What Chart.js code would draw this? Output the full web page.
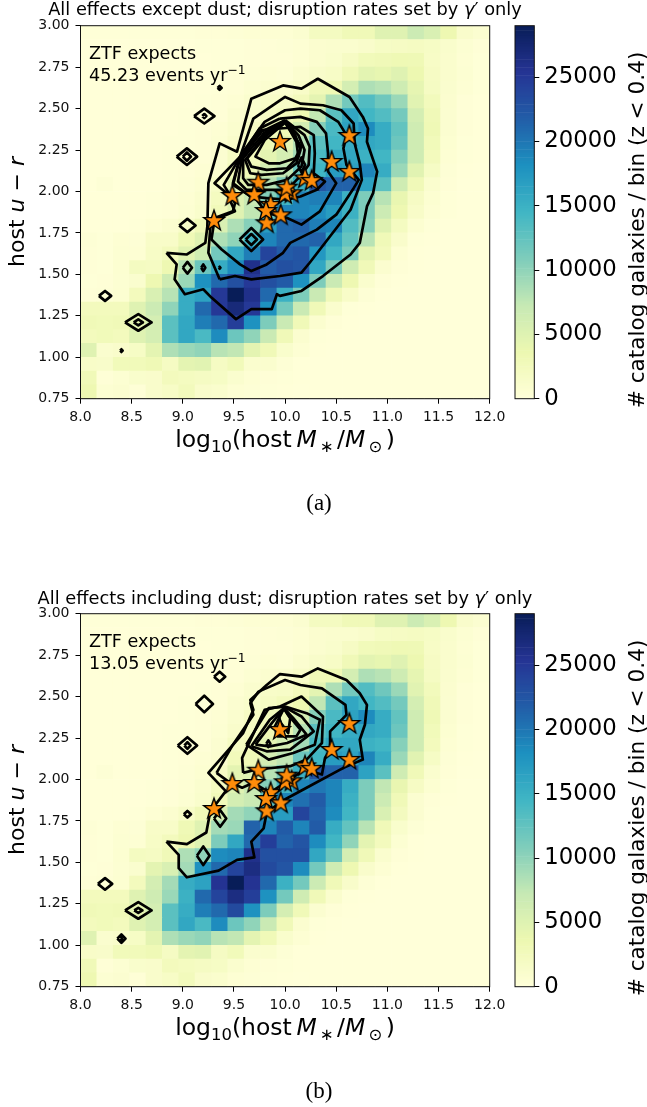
<!DOCTYPE html>
<html>
<head>
<meta charset="utf-8">
<title>Host galaxy demographics</title>
<script src="https://cdn.jsdelivr.net/npm/chart.js@4"></script>
<style>
  html, body { margin: 0; padding: 0; background: #fff; }
  #page { position: relative; width: 647px; height: 1107px; overflow: hidden; }
  canvas { position: absolute; display: block; }
</style>
</head>
<body>
<div id="page">
  <canvas id="painel_a" width="647" height="519" style="left:0;top:0"></canvas>
  <canvas id="barra_a" width="142" height="519" style="left:505px;top:0"></canvas>
  <canvas id="painel_b" width="647" height="519" style="left:0;top:588px"></canvas>
  <canvas id="barra_b" width="142" height="519" style="left:505px;top:588px"></canvas>
</div>
<script>
const xTicks = [8, 8.5, 9, 9.5, 10, 10.5, 11, 11.5, 12];
const yTicks = [0.75, 1, 1.25, 1.5, 1.75, 2, 2.25, 2.5, 2.75, 3];
const cbarTicks = [0, 5000, 10000, 15000, 20000, 25000];
const cbarMax = 29000;

// galaxies per bin, top row (u-r 3.00) first, 25 mass bins left to right
const countsA = [
[150,150,150,150,150,150,200,300,300,400,500,500,500,800,2200,2200,3000,3000,5000,5000,6800,5500,3500,1300,800],
[100,100,100,100,100,100,100,150,200,200,300,300,400,500,900,1000,1000,1300,1800,1900,2100,1800,1200,600,300],
[50,50,50,50,50,100,100,100,150,200,300,300,300,500,900,1200,1900,2800,3000,3300,3200,1700,1100,500,200],
[50,50,50,50,50,100,100,100,200,300,400,500,400,900,1400,1700,3000,4600,4200,5000,3600,1900,1100,600,200],
[50,50,50,50,100,100,100,100,200,300,600,900,1000,1500,3000,3300,6000,8500,8000,6600,4300,2000,1000,500,200],
[50,50,50,100,100,100,100,200,300,500,1000,1500,1600,2500,4500,8500,11500,13500,11800,9500,4800,2600,900,300,100],
[50,50,100,100,100,100,150,200,300,800,1200,1900,2500,3500,7500,13000,16000,14500,13500,11500,6000,3000,800,300,100],
[50,50,100,100,100,100,150,300,500,1000,1900,2600,3200,6000,10500,14000,16500,18500,15500,12500,6500,3200,800,300,100],
[50,100,100,100,100,150,200,300,600,1300,2000,3200,4500,8000,13000,14500,15500,16000,15500,12000,6500,2800,700,200,50],
[50,100,100,100,100,150,200,300,800,2000,2500,4500,6000,9000,14000,16000,16000,15000,14500,10500,6500,2500,500,200,50],
[100,100,100,100,100,200,300,500,900,2700,3000,6000,7500,12000,14500,17000,16500,19000,15500,9500,4800,1800,400,100,0],
[100,400,100,100,100,200,400,700,1700,4500,5000,8000,11000,15000,22500,21500,21500,16500,13000,6500,3000,1000,300,0,0],
[100,100,100,100,150,300,500,1000,2300,5000,7000,10500,14500,19000,19500,19000,15000,11000,8000,4000,1900,700,200,0,0],
[100,100,100,100,200,300,600,1200,2800,5000,7500,12000,19000,19000,18500,17000,15000,11000,6800,3500,1500,500,200,0,0],
[100,100,100,200,500,900,1600,3000,5500,8500,10500,17000,21000,21500,19500,19000,13500,10500,5000,2200,700,200,0,0,0],
[400,200,500,400,1500,1500,3200,5000,8500,10000,15000,19000,21000,21000,21500,16000,12500,8000,3000,1300,200,100,0,0,0],
[300,200,600,500,1700,2500,4800,6500,11500,16000,19500,24000,22000,22500,17500,14500,11000,4500,2500,500,100,0,0,0,0],
[300,200,700,2200,2000,3500,8000,12000,15500,18500,26000,22000,23000,22500,16000,11000,6500,3000,900,300,50,0,0,0,0],
[200,300,600,1000,3500,6500,9500,18000,21000,23000,25000,23000,22000,18000,11000,7000,3500,1100,300,50,0,0,0,0,0],
[300,400,700,2500,5500,8000,15500,16500,25000,29000,26000,21000,15000,11000,7000,3000,1500,400,50,0,0,0,0,0,0],
[2500,2500,2500,5000,6800,10000,15500,21000,25000,27000,25000,18000,11500,7000,3000,1100,200,50,0,0,0,0,0,0,0],
[3000,2800,3000,4500,6000,13000,16000,19500,21000,24500,18000,11000,7000,3000,900,300,100,0,0,0,0,0,0,0,0],
[2500,2800,2500,5000,6000,13000,16000,14000,18500,12000,10000,7000,3000,900,200,50,0,0,0,0,0,0,0,0,0],
[5000,1000,1300,1800,4500,8500,9500,10000,8000,7500,4500,3000,1200,500,50,0,0,0,0,0,0,0,0,0,0],
[1500,1400,2800,2800,3200,2000,4500,4800,2000,2800,1000,1000,400,100,0,0,0,0,0,0,0,0,0,0,0],
[3000,300,600,1200,1300,2500,2300,2000,1800,1000,500,300,200,50,0,0,0,0,0,0,0,0,0,0,0],
[3500,600,800,300,1300,1700,2600,1300,1100,500,400,200,100,0,0,0,0,0,0,0,0,0,0,0,0]
];

const countsB = [
[150,150,150,150,150,150,200,300,300,400,500,500,500,800,2200,2200,3000,3000,5000,5000,6800,5500,3500,1300,800],
[100,100,100,100,100,100,100,150,200,200,300,300,400,500,900,1000,1000,1300,1800,1900,2100,1800,1200,600,300],
[50,50,50,50,50,100,100,100,150,200,300,300,300,500,900,1200,1900,2800,3000,3300,3200,1700,1100,500,200],
[50,50,50,50,50,100,100,100,200,300,400,500,400,900,1400,1700,3000,4600,4200,5000,3600,1900,1100,600,200],
[50,50,50,50,100,100,100,100,200,300,600,900,1000,1500,3000,3300,6000,8500,8000,6600,4300,2000,1000,500,200],
[50,50,50,100,100,100,100,200,300,500,1000,1500,1600,2500,4500,8500,11500,13500,11800,9500,4800,2600,900,300,100],
[50,50,100,100,100,100,150,200,300,800,1200,1900,2500,3500,7500,13000,16000,14500,13500,11500,6000,3000,800,300,100],
[50,50,100,100,100,100,150,300,500,1000,1900,2600,3200,6000,10500,14000,16500,18500,15500,12500,6500,3200,800,300,100],
[50,100,100,100,100,150,200,300,600,1300,2000,3200,4500,8000,13000,14500,15500,16000,15500,12000,6500,2800,700,200,50],
[50,100,100,100,100,150,200,300,800,2000,2500,4500,6000,9000,14000,16000,16000,15000,14500,10500,6500,2500,500,200,50],
[100,100,100,100,100,200,300,500,900,2700,3000,6000,7500,12000,14500,17000,16500,19000,15500,9500,4800,1800,400,100,0],
[100,400,100,100,100,200,400,700,1700,4500,5000,8000,11000,15000,22500,21500,21500,16500,13000,6500,3000,1000,300,0,0],
[100,100,100,100,150,300,500,1000,2300,5000,7000,10500,14500,19000,20000,19000,15500,11000,7500,4000,1900,700,200,0,0],
[100,100,100,100,200,300,600,1200,2800,6000,7000,13000,19000,20500,22000,19000,15000,11000,6800,3000,800,300,100,0,0],
[100,100,100,200,500,900,1600,3000,5500,9000,10000,17000,17000,24000,21500,18500,14500,11000,5500,2400,800,200,0,0,0],
[400,200,500,400,1500,1500,3200,5000,9000,9500,21500,19000,22000,19000,22000,15500,12500,8000,3000,1200,400,100,0,0,0],
[300,200,600,500,1700,2500,3500,5000,11000,16000,21000,24500,21500,22500,18500,14500,10000,4500,2500,600,100,0,0,0,0],
[300,200,700,2200,2000,3000,8500,10000,18500,19000,26000,23000,23000,23000,16000,12000,6000,3000,1000,300,50,0,0,0,0],
[200,300,600,1000,4500,5500,9000,18000,21000,24000,26500,23500,22500,18500,11500,6500,3500,1300,500,50,0,0,0,0,0],
[300,400,700,2500,6000,9000,15500,16500,25500,29000,25500,21000,15000,11500,6800,3000,1400,400,50,0,0,0,0,0,0],
[2500,2500,2500,5000,6500,9500,15000,21000,24000,26500,24500,18000,11500,6500,3000,1100,200,50,0,0,0,0,0,0,0],
[3000,2800,3000,4500,6000,13000,15500,19500,21000,23500,18000,11000,6000,3000,800,300,100,0,0,0,0,0,0,0,0],
[2500,2800,2500,5000,6000,13000,16000,14000,18500,12000,10000,7000,3000,900,200,50,0,0,0,0,0,0,0,0,0],
[5000,1000,1300,1800,4500,8500,9500,10000,8000,7500,4500,3000,1200,500,50,0,0,0,0,0,0,0,0,0,0],
[1500,1400,2800,2800,3200,2000,4500,4800,2000,2800,1000,1000,400,100,0,0,0,0,0,0,0,0,0,0,0],
[3000,300,600,1200,1300,2500,2300,2000,1800,1000,500,300,200,50,0,0,0,0,0,0,0,0,0,0,0],
[3500,600,800,300,1300,1700,2600,1300,1100,500,400,200,100,0,0,0,0,0,0,0,0,0,0,0,0]
];

// observed hosts, same in both panels
const hostMass = [9.484,9.305,9.738,9.699,9.859,9.82,9.957,9.95,10.195,10.26,10.455,10.628,10.628,10.064,9.999,10.015,9.813];
const hostColor = [1.979,1.828,2.059,1.985,1.925,1.814,1.862,2.305,2.085,2.07,2.184,2.341,2.124,1.995,1.989,2.029,1.888];

// contour levels, read as closed (mass, u-r) lines
const contoursA = [
[[8.84,1.63],[9.04,1.62],[9.22,1.69],[9.24,1.79],[9.25,2.05],[9.36,2.29],[9.53,2.24],[9.67,2.56],[9.98,2.64],[10.16,2.62],[10.32,2.68],[10.63,2.57],[10.76,2.45],[10.81,2.38],[10.80,2.30],[10.90,2.12],[10.86,1.99],[10.80,1.91],[10.73,1.69],[10.64,1.62],[10.37,1.49],[10.16,1.40],[9.95,1.37],[9.92,1.38],[9.87,1.29],[9.67,1.29],[9.52,1.23],[9.28,1.36],[9.20,1.41],[9.02,1.38],[8.92,1.47],[8.94,1.56],[8.84,1.63]],
[[9.36,1.47],[9.25,1.63],[9.27,1.79],[9.31,1.83],[9.51,1.88],[9.43,1.99],[9.31,2.05],[9.56,2.21],[9.69,2.44],[9.95,2.55],[10.0,2.57],[10.15,2.53],[10.37,2.52],[10.55,2.49],[10.67,2.41],[10.68,2.29],[10.73,2.17],[10.75,2.07],[10.64,1.89],[10.34,1.65],[10.24,1.57],[10.16,1.51],[9.95,1.49],[9.67,1.47],[9.51,1.49],[9.36,1.47]],
[[9.30,1.79],[9.28,1.71],[9.38,1.65],[9.56,1.56],[9.67,1.52],[9.82,1.56],[9.98,1.63],[10.05,1.69],[10.31,1.77],[10.50,1.86],[10.67,2.02],[10.72,2.07],[10.60,2.16],[10.57,2.26],[10.60,2.34],[10.52,2.42],[10.34,2.49],[10.15,2.50],[10.0,2.49],[9.80,2.42],[9.59,2.24],[9.40,2.04],[9.51,1.93],[9.49,1.88],[9.31,1.84],[9.30,1.79]],
[[9.95,2.44],[10.15,2.45],[10.31,2.42],[10.40,2.35],[10.42,2.23],[10.42,2.12],[10.50,2.05],[10.34,1.88],[10.16,1.80],[10.02,1.84],[9.82,1.87],[9.72,1.95],[9.49,2.04],[9.56,2.20],[9.75,2.38],[9.95,2.44]],
[[9.95,2.38],[10.15,2.39],[10.28,2.34],[10.29,2.23],[10.28,2.11],[10.39,2.06],[10.31,2.01],[10.15,1.97],[10.02,1.95],[9.82,1.96],[9.66,1.97],[9.49,2.05],[9.56,2.21],[9.77,2.37],[9.95,2.38]],
[[10.0,2.43],[10.19,2.34],[10.24,2.27],[10.23,2.16],[10.16,2.10],[10.02,2.01],[9.82,2.01],[9.62,2.01],[9.54,2.06],[9.58,2.21],[9.77,2.36],[10.0,2.43]],
[[10.0,2.425],[10.13,2.34],[10.19,2.25],[10.16,2.15],[10.02,2.07],[9.82,2.04],[9.64,2.04],[9.59,2.08],[9.59,2.20],[9.79,2.35],[10.0,2.425]],
[[10.0,2.42],[10.10,2.34],[10.15,2.25],[10.11,2.17],[9.98,2.11],[9.77,2.10],[9.66,2.11],[9.61,2.19],[9.80,2.34],[10.0,2.42]],
[[9.63,2.20],[9.67,2.15],[9.82,2.13],[10.02,2.14],[10.13,2.21],[10.11,2.30],[10.0,2.42],[9.82,2.34],[9.63,2.20]],
[[10.0,2.415],[10.16,2.27],[10.10,2.20],[9.95,2.17],[9.84,2.17],[9.71,2.21],[9.80,2.31],[10.0,2.415]]
];

const contoursB = [
[[8.84,1.625],[8.96,1.545],[8.96,1.465],[9.04,1.41],[9.35,1.45],[9.53,1.515],[9.70,1.53],[9.67,1.625],[9.79,1.705],[9.82,1.80],[9.97,1.87],[10.21,1.95],[10.57,2.07],[10.76,2.12],[10.73,2.24],[10.78,2.33],[10.80,2.45],[10.73,2.52],[10.60,2.60],[10.32,2.67],[10.16,2.62],[9.95,2.636],[9.82,2.57],[9.66,2.48],[9.69,2.42],[9.59,2.28],[9.25,2.04],[9.42,1.93],[9.31,1.84],[9.26,1.78],[9.23,1.68],[9.04,1.61],[8.84,1.625]],
[[9.33,2.04],[9.44,1.99],[9.58,1.95],[9.69,1.98],[9.85,1.92],[9.95,1.96],[10.19,2.06],[10.36,2.03],[10.39,2.13],[10.44,2.18],[10.44,2.29],[10.60,2.39],[10.59,2.45],[10.36,2.55],[10.15,2.57],[10.0,2.60],[9.74,2.53],[9.66,2.46],[9.69,2.39],[9.49,2.21],[9.33,2.04]],
[[9.59,2.04],[9.58,2.13],[9.64,2.21],[9.80,2.42],[9.95,2.44],[10.16,2.50],[10.37,2.38],[10.36,2.22],[10.21,2.12],[10.05,2.08],[9.72,2.06],[9.59,2.04]],
[[9.62,2.21],[9.84,2.12],[10.08,2.16],[10.29,2.21],[10.34,2.36],[10.21,2.40],[10.0,2.44],[9.84,2.43],[9.62,2.21]],
[[9.67,2.20],[9.82,2.17],[10.05,2.18],[10.28,2.29],[10.16,2.38],[10.0,2.435],[9.85,2.36],[9.67,2.20]],
[[9.71,2.21],[9.85,2.20],[10.02,2.22],[10.21,2.27],[10.08,2.37],[9.99,2.43],[9.87,2.34],[9.71,2.21]],
[[9.92,2.26],[10.11,2.26],[10.15,2.30],[10.03,2.39],[9.99,2.43],[9.90,2.32],[9.92,2.26]],
[[9.96,2.34],[10.03,2.28],[10.05,2.37],[9.99,2.425],[9.93,2.39],[9.96,2.34]]
];

// small isolated contours: centre mass, centre u-r, half width, half height
const islandsA = [
[9.67,1.71,0.115,0.07],[9.67,1.71,0.055,0.033],[9.21,2.455,0.10,0.045],[9.21,2.455,0.02,0.012],
[9.04,2.21,0.10,0.05],[9.04,2.21,0.04,0.025],[9.36,2.625,0.02,0.012],[9.045,1.795,0.08,0.04],
[9.045,1.54,0.045,0.035],[9.20,1.54,0.02,0.02],[9.36,1.54,0.008,0.006],[8.24,1.37,0.06,0.03],
[8.565,1.21,0.13,0.05],[8.565,1.21,0.045,0.018],[8.40,1.04,0.012,0.008],[10.16,2.16,0.035,0.045]
];
const islandsB = [
[9.045,1.79,0.035,0.02],[9.20,1.54,0.062,0.056],[8.24,1.37,0.07,0.035],[8.565,1.21,0.13,0.05],
[8.565,1.21,0.04,0.015],[8.40,1.04,0.04,0.025],[8.40,1.04,0.008,0.006],[9.21,2.455,0.085,0.05],
[9.045,2.205,0.095,0.05],[9.045,2.205,0.03,0.02],[9.36,2.62,0.055,0.03],[9.836,2.216,0.02,0.02],
[9.365,1.765,0.06,0.05]
];

const ylgnbu = ['#ffffd9','#edf8b1','#c7e9b4','#7fcdbb','#41b6c4','#1d91c0','#225ea8','#253494','#081d58'];

function corDe(v) {
  const t = Math.min(v / cbarMax, 1) * (ylgnbu.length - 1);
  const i = Math.min(Math.floor(t), ylgnbu.length - 2);
  const f = t - i;
  const rgb = [1, 3, 5].map(k => {
    const a = parseInt(ylgnbu[i].slice(k, k + 2), 16);
    const b = parseInt(ylgnbu[i + 1].slice(k, k + 2), 16);
    return Math.round(a + (b - a) * f);
  });
  return `rgb(${rgb.join(',')})`;
}

function celulas(counts) {
  const nrows = counts.length, ncols = counts[0].length;
  const dx = (xTicks[xTicks.length - 1] - xTicks[0]) / ncols;
  const dy = (yTicks[yTicks.length - 1] - yTicks[0]) / nrows;
  const out = [];
  counts.forEach((row, j) => row.forEach((v, i) => {
    const hi = 3 - j * dy;
    out.push({ x: 8 + (i + 0.5) * dx, y: [hi - dy, hi], v });
  }));
  return out;
}

function linhasDe(contours, islands) {
  const lines = contours.map(c => c.map(p => ({ x: p[0], y: p[1] })));
  islands.forEach(([x, y, w, h]) => {
    lines.push([{x: x - w, y}, {x, y: y + h}, {x: x + w, y}, {x, y: y - h}, {x: x - w, y}]);
  });
  return lines;
}

// orange five-pointed marker
function criaEstrela() {
  const c = document.createElement('canvas');
  c.width = 26; c.height = 26;
  const g = c.getContext('2d');
  g.beginPath();
  for (let k = 0; k < 10; k++) {
    const r = k % 2 ? 4.3 : 10.8;
    const a = -Math.PI / 2 + k * Math.PI / 5;
    const px = 13 + r * Math.cos(a), py = 14 + r * Math.sin(a);
    k ? g.lineTo(px, py) : g.moveTo(px, py);
  }
  g.closePath();
  g.fillStyle = '#ff8c0a';
  g.fill();
  g.lineWidth = 1.4;
  g.strokeStyle = '#000';
  g.stroke();
  return c;
}
const estrela = criaEstrela();

// mixed italic / subscript text, which tick and title options can't do
function textos(items) {
  return {
    id: 'textos',
    afterDraw(chart) {
      const ctx = chart.ctx;
      items.forEach(it => {
        const family = it.family || '"DejaVu Sans"';
        const fonte = r => {
          const s = (r.sub || r.sup) ? it.size * 0.7 : it.size;
          return `${r.i ? 'italic ' : ''}${s}px ${family}`;
        };
        const runs = it.runs.map(r => typeof r === 'string' ? { t: r } : r);
        let total = 0;
        runs.forEach(r => { ctx.font = fonte(r); total += ctx.measureText(r.t).width; });
        ctx.save();
        ctx.translate(it.x, it.y);
        if (it.rot) ctx.rotate(it.rot);
        ctx.fillStyle = '#000';
        ctx.textBaseline = 'alphabetic';
        ctx.textAlign = 'left';
        let cx = it.align === 'left' ? 0 : -total / 2;
        runs.forEach(r => {
          ctx.font = fonte(r);
          const dy = r.sub ? it.size * 0.2 : r.sup ? -it.size * 0.42 : 0;
          ctx.fillText(r.t, cx, dy);
          cx += ctx.measureText(r.t).width;
        });
        ctx.restore();
      });
    }
  };
}

const moldura = {
  id: 'moldura',
  afterDatasetsDraw(chart) {
    const a = chart.chartArea, ctx = chart.ctx;
    ctx.save();
    ctx.strokeStyle = '#111';
    ctx.lineWidth = 1;
    ctx.strokeRect(a.left, a.top, a.right - a.left, a.bottom - a.top);
    ctx.restore();
  }
};

const rotuloX = ['log', { t: '10', sub: true }, '(host\u2009', { t: 'M', i: true }, { t: '\u2009\u2217\u2009', sub: true }, '/', { t: 'M', i: true }, { t: '\u2009\u2299\u2009', sub: true }, ')'];
const rotuloY = ['host ', { t: 'u', i: true }, ' \u2212 ', { t: 'r', i: true }];

function desenhaPainel(id, cfg) {
  const datasets = [{
    type: 'bar',
    order: 3,
    data: celulas(cfg.counts),
    backgroundColor: c => corDe(c.raw ? c.raw.v : 0),
    barPercentage: 1,
    categoryPercentage: 1
  }];
  linhasDe(cfg.contours, cfg.islands).forEach(l => datasets.push({
    type: 'scatter',
    order: 2,
    data: l,
    showLine: true,
    borderColor: '#000',
    borderWidth: 2.7,
    borderJoinStyle: 'round',
    pointRadius: 0,
    fill: false
  }));
  datasets.push({
    type: 'scatter',
    order: 1,
    data: hostMass.map((m, i) => ({ x: m, y: hostColor[i] })),
    pointStyle: estrela,
    pointRadius: 11
  });

  new Chart(document.getElementById(id).getContext('2d'), {
    data: { datasets },
    plugins: [moldura, textos([
      { runs: cfg.title, x: 285, y: cfg.titleY, size: 17.8 },
      { runs: ['ZTF expects'], x: 89, y: 59, size: 17.6, align: 'left' },
      { runs: [cfg.rate + ' events yr', { t: '\u22121', sup: true }], x: 89, y: 81, size: 17.6, align: 'left' },
      { runs: rotuloX, x: 285, y: 447, size: 23.5 },
      { runs: rotuloY, x: 24, y: 212, size: 22, rot: -Math.PI / 2 },
      { runs: [cfg.tag], x: 319, y: 510, size: 23, family: '"Liberation Serif"' }
    ])],
    options: {
      responsive: false,
      animation: false,
      layout: { padding: { left: 0, top: 25.7, right: 157.3, bottom: 90.3 } },
      plugins: { legend: { display: false }, tooltip: { enabled: false } },
      scales: {
        x: {
          type: 'linear',
          min: 8, max: 12,
          offset: false,
          grid: { offset: false, drawOnChartArea: false, color: '#000', tickLength: 5, lineWidth: 1 },
          border: { display: true, color: '#000', width: 1 },
          afterBuildTicks: s => { s.ticks = xTicks.map(v => ({ value: v })); },
          afterFit: s => { s.height = 30; },
          ticks: {
            autoSkip: false, maxRotation: 0, padding: 5, color: '#111',
            font: { family: '"DejaVu Sans"', size: 14 },
            callback: v => v.toFixed(1)
          }
        },
        y: {
          type: 'linear',
          min: 0.75, max: 3,
          grid: { drawOnChartArea: false, color: '#000', tickLength: 5, lineWidth: 1 },
          border: { display: true, color: '#000', width: 1 },
          afterBuildTicks: s => { s.ticks = yTicks.map(v => ({ value: v })); },
          afterFit: s => { s.width = 80.5; },
          ticks: {
            autoSkip: false, padding: 6, color: '#111',
            font: { family: '"DejaVu Sans"', size: 14 },
            callback: v => v.toFixed(2)
          }
        }
      }
    }
  });
}

function desenhaBarra(id) {
  const niveis = [];
  for (let k = 0; k < 232; k++) niveis.push({ x: 0.5, y: [k * 125, (k + 1) * 125], v: k * 125 + 62 });

  new Chart(document.getElementById(id).getContext('2d'), {
    type: 'bar',
    data: { datasets: [{
      data: niveis,
      backgroundColor: c => corDe(c.raw ? c.raw.v : 0),
      barPercentage: 1,
      categoryPercentage: 1
    }] },
    plugins: [moldura, textos([
      { runs: ['# catalog galaxies / bin (z < 0.4)'], x: 139, y: 230, size: 21.6, rot: -Math.PI / 2 }
    ])],
    options: {
      responsive: false,
      animation: false,
      layout: { padding: { left: 10, top: 25.7, right: 0, bottom: 120.3 } },
      plugins: { legend: { display: false }, tooltip: { enabled: false } },
      scales: {
        x: { type: 'linear', display: false, min: 0, max: 1, offset: false },
        y: {
          type: 'linear',
          position: 'right',
          min: 0, max: cbarMax,
          grid: { drawOnChartArea: false, color: '#000', tickLength: 5, lineWidth: 1 },
          border: { display: false },
          afterBuildTicks: s => { s.ticks = cbarTicks.map(v => ({ value: v })); },
          afterFit: s => { s.width = 112.7; },
          ticks: {
            autoSkip: false, padding: 5, color: '#000',
            font: { family: '"DejaVu Sans"', size: 22.8 },
            callback: v => String(v)
          }
        }
      }
    }
  });
}

desenhaPainel('painel_a', {
  counts: countsA, contours: contoursA, islands: islandsA, rate: '45.23', tag: '(a)', titleY: 15,
  title: ['All effects except dust; disruption rates set by ', { t: '\u03b3', i: true }, '\u2032 only']
});
desenhaPainel('painel_b', {
  counts: countsB, contours: contoursB, islands: islandsB, rate: '13.05', tag: '(b)', titleY: 16,
  title: ['All effects including dust; disruption rates set by ', { t: '\u03b3', i: true }, '\u2032 only']
});
desenhaBarra('barra_a');
desenhaBarra('barra_b');
</script>
</body>
</html>
